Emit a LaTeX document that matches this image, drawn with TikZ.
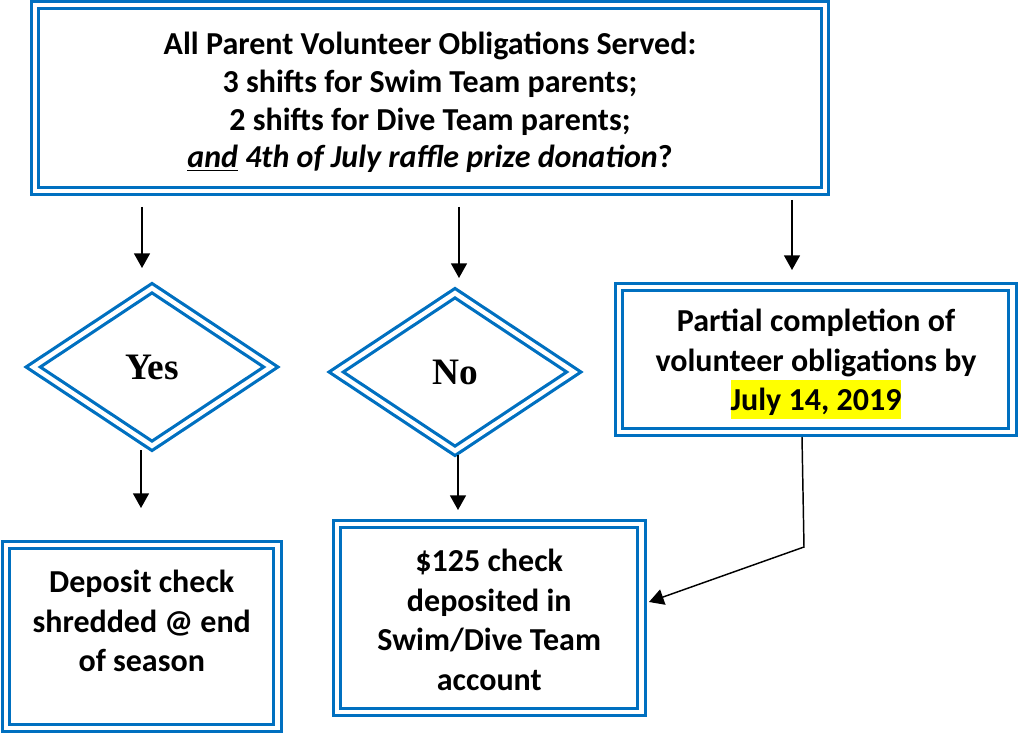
\documentclass[tikz,border=0pt]{standalone}
\usepackage{fontspec}
\setmainfont{Carlito}
\newfontfamily\tnr{Liberation Serif}
\usetikzlibrary{shapes.geometric,arrows.meta}
\definecolor{wblue}{RGB}{0,112,192}
\definecolor{hl}{RGB}{255,255,0}
\newcommand{\ulbold}[1]{\underline{\smash{#1}}\vphantom{#1}}
\begin{document}
\begin{tikzpicture}[x=0.75pt,y=-0.75pt,
  dbl/.style={draw=wblue, line width=2.4pt, double=white, double distance=3.4pt},
  box/.style={dbl, rectangle, inner sep=0pt},
  txt/.style={inner sep=0pt, align=center,
    font=\fontsize{24}{29.6}\selectfont\bfseries},
  dia/.style={dbl, diamond, inner sep=0pt,
    font=\tnr\fontsize{28}{32}\selectfont\bfseries},
  arr/.style={line width=1.1pt, -{Triangle[width=12pt,length=11pt]}}]
\useasboundingbox (0,0) rectangle (1018,734);

\node[box, minimum width=592.5pt, minimum height=139.5pt] (top) at (430,98) {};
\node[txt, font=\fontsize{24}{28.3}\selectfont\bfseries] (toptext) at (430,102.5)
  {All Parent Volunteer Obligations Served:\\
   3 shifts for Swim Team parents;\\
   2 shifts for Dive Team parents;\\
   \underline{\textit{and}} \textit{4th of July raffle prize donation}?};

\node[dia, minimum width=179.25pt, minimum height=119.25pt] (yes) at (152,367) {Yes};
\node[dia, minimum width=179.25pt, minimum height=119.25pt] (no) at (455,372) {No};

\node[box, minimum width=295.1pt, minimum height=108.75pt] (part) at (815.75,359.5) {};
\node[txt] (parttext) at (816,364)
  {Partial completion of\\
   volunteer obligations by\\
   {\setlength\fboxsep{0pt}\colorbox{hl}{\rule[-6pt]{0pt}{29.25pt}July 14, 2019}}};

\node[box, minimum width=203.6pt, minimum height=137.25pt] (dep) at (141.75,636.5) {};
\node[txt] (deptext) at (141.75,621) {Deposit check\\ shredded @ end\\ of season};

\node[box, minimum width=228.4pt, minimum height=141pt] (chk) at (489.25,618) {};
\node[txt] (chktext) at (489.25,620)
  {\$125 check\\ deposited in\\ Swim/Dive Team\\ account};

\coordinate (a1s) at (142,207); \coordinate (a1e) at (142,268);
\coordinate (a2s) at (459,207); \coordinate (a2e) at (459,278);
\coordinate (a3s) at (792,200); \coordinate (a3e) at (792,270);
\coordinate (a4s) at (141,450); \coordinate (a4e) at (141,508);
\coordinate (a5s) at (458,455); \coordinate (a5e) at (458,510);
\coordinate (a6s) at (802,437); \coordinate (a6m) at (804,547); \coordinate (a6e) at (649,602);

\draw[arr] (a1s) -- (a1e);
\draw[arr] (a2s) -- (a2e);
\draw[arr] (a3s) -- (a3e);
\draw[arr] (a4s) -- (a4e);
\draw[arr] (a5s) -- (a5e);
\draw[arr] (a6s) -- (a6m) -- (a6e);
\end{tikzpicture}
\end{document}
